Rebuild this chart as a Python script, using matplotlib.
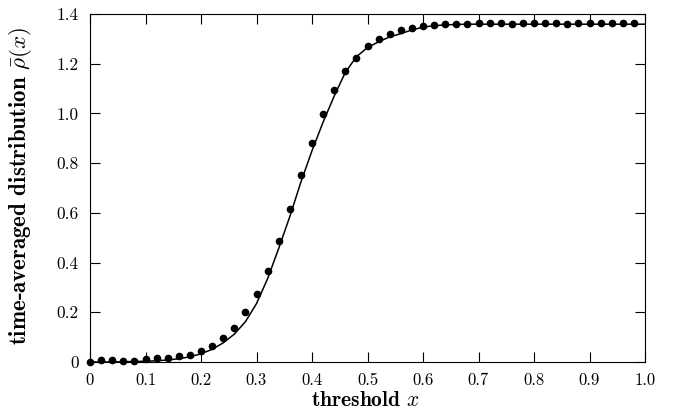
import numpy as np
import matplotlib
matplotlib.use("Agg")
import matplotlib.pyplot as plt

plt.rcParams['mathtext.fontset'] = 'cm'
plt.rcParams['axes.formatter.use_mathtext'] = True

# simulation points
x_pts = [round(0.02 * i, 2) for i in range(50)]
y_pts = [0.000, 0.007, 0.007, 0.006, 0.005, 0.012, 0.015, 0.015, 0.023, 0.030,
         0.046, 0.064, 0.098, 0.138, 0.200, 0.275, 0.367, 0.488, 0.617, 0.753,
         0.881, 0.998, 1.095, 1.172, 1.223, 1.272, 1.299, 1.319, 1.335, 1.345,
         1.350, 1.357, 1.360, 1.360, 1.361, 1.362, 1.362, 1.362, 1.361, 1.363,
         1.363, 1.362, 1.364, 1.361, 1.365, 1.365, 1.365, 1.364, 1.364, 1.365]

# theory curve
x_line = [round(0.02 * i, 2) for i in range(51)]
y_line = [0.000, 0.000, 0.000, 0.001, 0.002, 0.003, 0.005, 0.008, 0.013, 0.021,
          0.033, 0.051, 0.077, 0.112, 0.162, 0.235, 0.335, 0.457, 0.585, 0.724,
          0.850, 0.965, 1.070, 1.165, 1.228, 1.265, 1.288, 1.308, 1.321, 1.336,
          1.347, 1.353, 1.356, 1.358, 1.359, 1.359, 1.359, 1.359, 1.359, 1.359,
          1.359, 1.359, 1.359, 1.359, 1.359, 1.359, 1.359, 1.359, 1.359, 1.359,
          1.359]

xticks = [0, 0.1, 0.2, 0.3, 0.4, 0.5, 0.6, 0.7, 0.8, 0.9, 1.0]
xticklabels = ['0', '0.1', '0.2', '0.3', '0.4', '0.5', '0.6', '0.7', '0.8', '0.9', '1.0']
yticks = [0, 0.2, 0.4, 0.6, 0.8, 1.0, 1.2, 1.4]
yticklabels = ['0', '0.2', '0.4', '0.6', '0.8', '1.0', '1.2', '1.4']

fig = plt.figure(figsize=(6.75, 4.12), dpi=100)
ax = fig.add_axes([90/675, 1 - 362/412, 555/675, 348/412])

ax.plot(x_line, y_line, color='black', lw=1.1)
ax.plot(x_pts, y_pts, 'o', color='black', ms=4.5, clip_on=False, zorder=5)

ax.set_xlim(0, 1.0)
ax.set_ylim(0, 1.4)
ax.set_xticks(xticks)
ax.set_xticklabels(xticklabels, fontfamily='cmr10', fontsize=12)
ax.set_yticks(yticks)
ax.set_yticklabels(yticklabels, fontfamily='cmr10', fontsize=12.5)
ax.tick_params(direction='in', length=7, width=0.8, top=True, right=True)
ax.tick_params(axis='y', pad=8)
ax.tick_params(axis='x', pad=8)
for s in ax.spines.values():
    s.set_linewidth(0.8)

ax.set_xlabel(r'threshold $x$', fontfamily='cmb10', fontsize=15.5)
ax.set_ylabel(r'time-averaged distribution $\bar{\rho}(x)$', fontfamily='cmb10', fontsize=16.5)
ax.xaxis.set_label_coords(0.497, -0.082)
ax.yaxis.set_label_coords(-0.100, 0.505)

fig.savefig('out.png', dpi=100)
